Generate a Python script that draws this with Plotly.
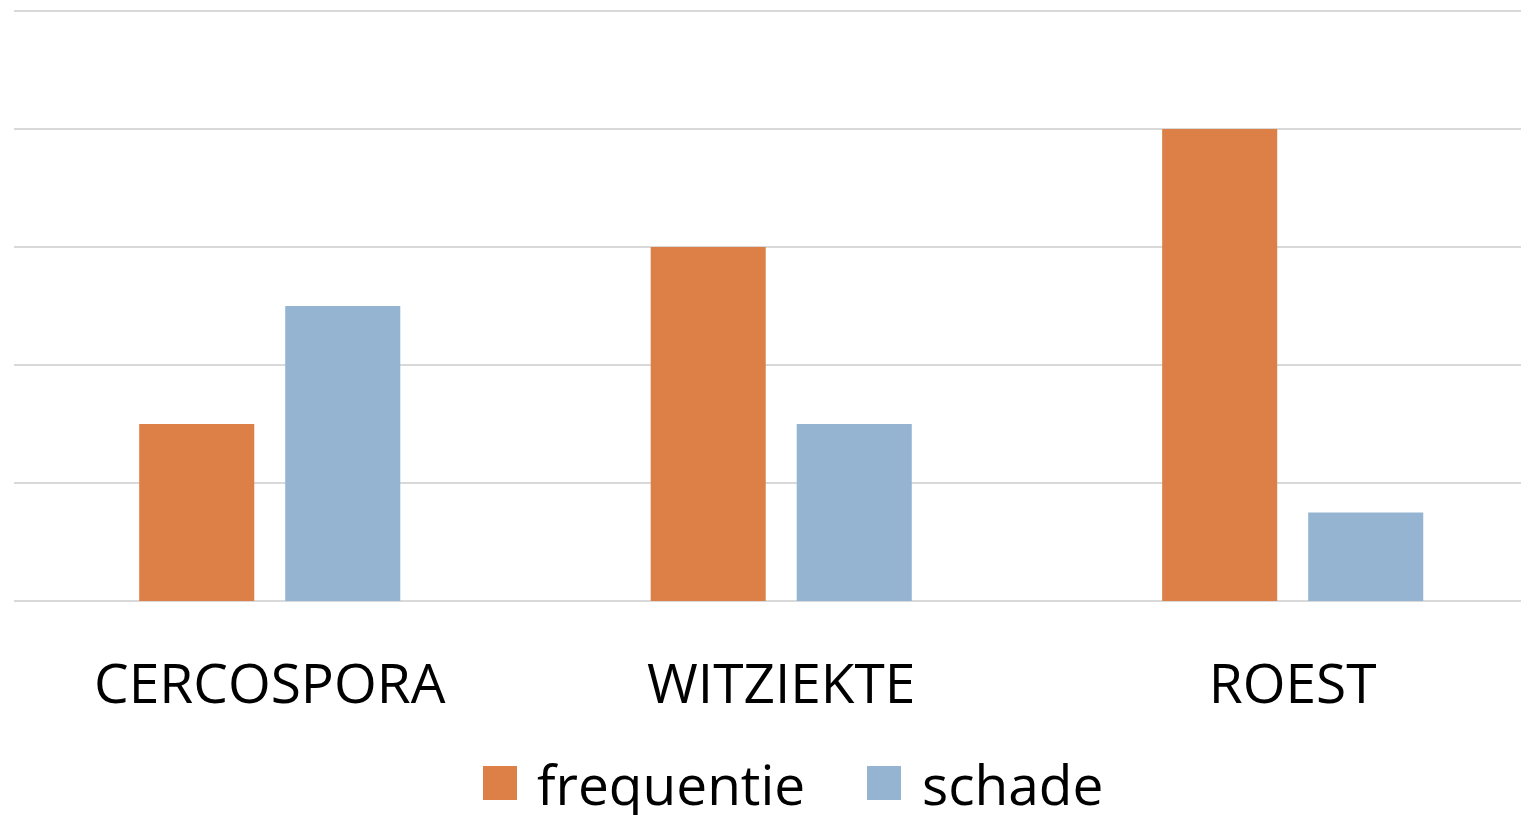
import plotly.graph_objects as go

categories = ["CERCOSPORA", "WITZIEKTE", "ROEST"]
frequentie = [1.5, 3, 4]
schade = [2.5, 1.5, 0.75]
series_names = ["frequentie", "schade"]
colors = ["#DD8047", "#95B4D2"]

# page body has an 8px margin, so the figure is drawn 8px smaller and shifted
OFF = 8
W, H = 1529 - OFF, 815 - OFF
L, T, B = 14 - OFF, 1, 214
pw, ph = W - L, H - T - B


def px_x(x):
    return (x - OFF - L) / pw


def px_y(y):
    return (H - B - (y - OFF)) / ph


fig = go.Figure()
for name, vals, col in zip(series_names, [frequentie, schade], colors):
    fig.add_trace(go.Bar(x=categories, y=vals, name=name, marker_color=col,
                         marker_line_width=0, showlegend=False))

# legend drawn by hand so the keys can be big squares
legend_keys = [(483, 535), (867, 920)]
for (sx, tx), name, col in zip(legend_keys, series_names, colors):
    fig.add_shape(type="rect", xref="paper", yref="paper",
                  x0=px_x(sx), x1=px_x(sx + 34), y0=px_y(800), y1=px_y(766),
                  fillcolor=col, line_width=0)
    fig.add_annotation(text=name, xref="paper", yref="paper", x=px_x(tx), y=px_y(783),
                       xanchor="left", yanchor="middle", showarrow=False,
                       font=dict(size=55, color="black", family="Open Sans"))

fig.update_layout(
    width=W, height=H,
    margin=dict(l=L, r=0, t=T, b=B, pad=0),
    plot_bgcolor="white", paper_bgcolor="white",
    barmode="group", bargap=0.429, bargroupgap=0.212,
    font=dict(family="Open Sans", size=55, color="black"),
    showlegend=False,
)
fig.update_xaxes(range=[-0.5, 2.462], showgrid=False, showline=False, ticks="",
                 tickfont=dict(size=55), ticklabelstandoff=46)
fig.update_yaxes(range=[0, 5.017], dtick=1, showticklabels=False, gridcolor="#D9D9D9",
                 gridwidth=2, zeroline=True, zerolinecolor="#D9D9D9", zerolinewidth=2)

fig.write_html("out.html")
